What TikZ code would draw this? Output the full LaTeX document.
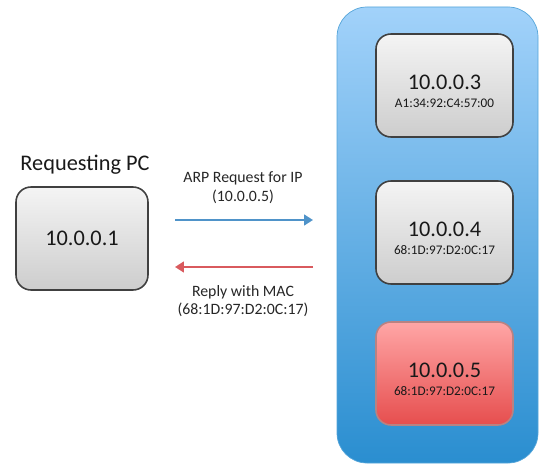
\documentclass[tikz,border=0pt]{standalone}
\usepackage{fontspec}
\setmainfont{Carlito}
\usetikzlibrary{arrows.meta}
\definecolor{boxtop}{HTML}{F4F4F4}
\definecolor{boxbot}{HTML}{CDCDCD}
\definecolor{nettop}{HTML}{A2D2FA}
\definecolor{netbot}{HTML}{2A8ED0}
\definecolor{hittop}{HTML}{FFA6A6}
\definecolor{hitbot}{HTML}{E64E4E}
\definecolor{reqcol}{HTML}{4F93C9}
\definecolor{repcol}{HTML}{D95A5E}
\tikzset{
  hostbox/.style={draw=black!75, line width=0.9pt, rounded corners=0.3cm,
    minimum width=2.74cm, minimum height=2.06cm, top color=boxtop, bottom color=boxbot},
  ipname/.style={font=\fontsize{12.7}{15}\selectfont, text=black!90},
  macname/.style={font=\fontsize{7.5}{9}\selectfont, text=black!90},
  msg/.style={font=\fontsize{9}{10.5}\selectfont, align=center, text=black!85},
  flow/.style={line width=1.2pt, -{Triangle[length=5pt,width=6pt]}}
}
\begin{document}
\begin{tikzpicture}
  \useasboundingbox (0,0) rectangle (10.8,9.32);
  % Red local
  \node[draw=netbot!80, line width=0.4pt, rounded corners=0.6cm, top color=nettop, bottom color=netbot,
    minimum width=4.02cm, minimum height=9.12cm] (net) at (8.75,4.62) {};
  % Equipos de la red
  \node[hostbox] (h3) at (8.89,7.61) {};
  \node[ipname] (ip3) at ([yshift=0.07cm]h3.center) {10.0.0.3};
  \node[macname] (mac3) at ([yshift=-0.36cm]h3.center) {A1:34:92:C4:57:00};
  \node[hostbox] (h4) at (8.89,4.67) {};
  \node[ipname] (ip4) at ([yshift=0.07cm]h4.center) {10.0.0.4};
  \node[macname] (mac4) at ([yshift=-0.36cm]h4.center) {68:1D:97:D2:0C:17};
  \node[hostbox, draw=hitbot!60!black!60, top color=hittop, bottom color=hitbot] (h5) at (8.89,1.85) {};
  \node[ipname] (ip5) at ([yshift=0.07cm]h5.center) {10.0.0.5};
  \node[macname] (mac5) at ([yshift=-0.36cm]h5.center) {68:1D:97:D2:0C:17};
  % Equipo que pregunta
  \node[hostbox, minimum width=2.64cm] (pc) at (1.64,4.55) {};
  \node[ipname] (ip1) at (pc.center) {10.0.0.1};
  \node[font=\fontsize{12.7}{15}\selectfont, text=black!90] (title) at (1.70,6.02) {Requesting PC};
  % Mensajes ARP
  \coordinate (reqA) at (3.50,4.92);
  \coordinate (reqB) at (6.26,4.92);
  \coordinate (repA) at (6.26,3.98);
  \coordinate (repB) at (3.50,3.98);
  \draw[flow, reqcol] (reqA) -- (reqB);
  \draw[flow, repcol] (repA) -- (repB);
  \node[msg] (reqtxt) at (4.86,5.57) {ARP Request for IP\\(10.0.0.5)};
  \node[msg] (reptxt) at (4.86,3.30) {Reply with MAC\\(68:1D:97:D2:0C:17)};
\end{tikzpicture}
\end{document}
